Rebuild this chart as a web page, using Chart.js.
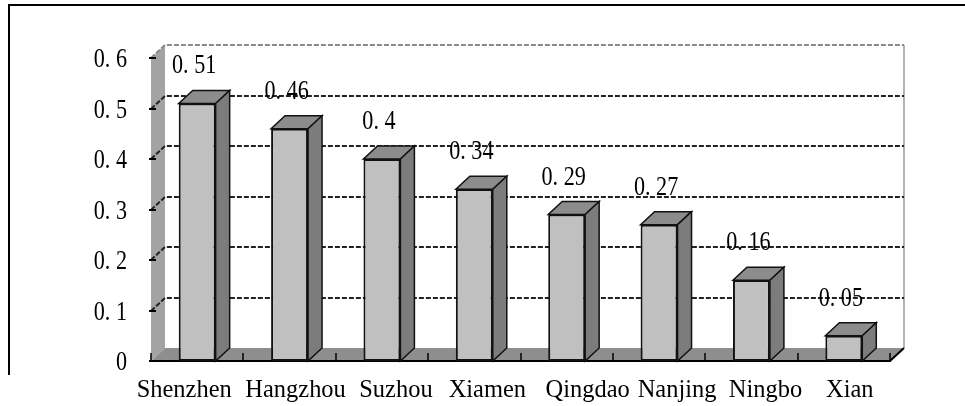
<!DOCTYPE html>
<html>
<head>
<meta charset="utf-8">
<script src="https://cdn.jsdelivr.net/npm/chart.js@4/dist/chart.umd.min.js"></script>
<style>
  html, body { margin: 0; padding: 0; background: #fff; }
  #wrap { width: 965px; height: 406px; position: relative; }
</style>
</head>
<body>
<div id="wrap"><canvas id="c"></canvas></div>
<script>
const cities = ['Shenzhen', 'Hangzhou', 'Suzhou', 'Xiamen', 'Qingdao', 'Nanjing', 'Ningbo', 'Xian'];
const scores = [0.51, 0.46, 0.4, 0.34, 0.29, 0.27, 0.16, 0.05];
const yMin = 0, yMax = 0.6, yStep = 0.1;

// the city names sit as one line of text, so each drifts a bit off its bar
const labelNudge = [-13, 6, 14, 13, 21, 18, 14, 6];

// depth of the fake 3d box
const DX = 14, DY = 13;
const serif = '"Liberation Serif", "Times New Roman", serif';

function fmt(v) {
  if (v === 0) return '0';
  return String(Math.round(v * 100) / 100).replace('0.', '0. ');
}

function poly(ctx, pts) {
  ctx.beginPath();
  ctx.moveTo(pts[0][0], pts[0][1]);
  for (let i = 1; i < pts.length; i++) ctx.lineTo(pts[i][0], pts[i][1]);
  ctx.closePath();
}

// narrow, tall text like the old SimSun digits
function narrowText(ctx, str, x, y, size, sx, align, baseline) {
  ctx.save();
  ctx.font = size + 'px ' + serif;
  ctx.textAlign = align;
  ctx.textBaseline = baseline;
  ctx.translate(x, y);
  ctx.scale(sx, 1);
  ctx.fillText(str, 0, 0);
  ctx.restore();
}

const box3d = {
  id: 'box3d',
  beforeDatasetsDraw(chart) {
    const { ctx, chartArea: a, scales: { x, y } } = chart;
    ctx.save();

    // left wall
    ctx.fillStyle = '#a3a3a3';
    poly(ctx, [[a.left, a.bottom], [a.left, a.top], [a.left + DX, a.top - DY], [a.left + DX, a.bottom - DY]]);
    ctx.fill();

    // floor
    ctx.fillStyle = '#8e8e8e';
    poly(ctx, [[a.left, a.bottom], [a.right, a.bottom], [a.right + DX, a.bottom - DY], [a.left + DX, a.bottom - DY]]);
    ctx.fill();

    // right edge of the back wall
    ctx.strokeStyle = '#b4b4b4';
    ctx.lineWidth = 2;
    ctx.beginPath();
    ctx.moveTo(a.right + DX, a.top - DY);
    ctx.lineTo(a.right + DX, a.bottom - DY);
    ctx.stroke();

    // dashed gridlines on wall + back
    ctx.lineWidth = 2;
    ctx.setLineDash([5, 2]);
    y.ticks.forEach(t => {
      if (t.value === 0) return;
      const py = Math.round(y.getPixelForValue(t.value));
      ctx.strokeStyle = t.value >= 0.6 ? '#8a8a8a' : (t.value >= 0.5 ? '#666' : '#222');
      ctx.beginPath();
      ctx.moveTo(a.left, py);
      ctx.lineTo(a.left + DX, py - DY);
      ctx.lineTo(a.right + DX, py - DY);
      ctx.stroke();
    });
    ctx.setLineDash([]);

    // y tick marks
    ctx.strokeStyle = '#000';
    ctx.lineWidth = 2;
    y.ticks.forEach(t => {
      const py = Math.round(y.getPixelForValue(t.value));
      ctx.beginPath();
      ctx.moveTo(a.left - 2, py);
      ctx.lineTo(a.left + 5, py);
      ctx.stroke();
    });

    // x axis front edge and category ticks
    ctx.beginPath();
    ctx.moveTo(a.left, a.bottom);
    ctx.lineTo(a.right, a.bottom);
    ctx.lineTo(a.right + DX, a.bottom - DY);
    ctx.stroke();
    ctx.lineWidth = 1.5;
    for (let i = 0; i <= cities.length; i++) {
      const px = Math.round(a.left + (a.right - a.left) * i / cities.length);
      ctx.beginPath();
      ctx.moveTo(px, a.bottom - 8);
      ctx.lineTo(px, a.bottom + 1);
      ctx.stroke();
    }
    ctx.restore();
  },
  afterDatasetsDraw(chart) {
    const { ctx } = chart;
    const meta = chart.getDatasetMeta(0);
    ctx.save();
    ctx.lineWidth = 1.5;
    ctx.strokeStyle = '#111';
    meta.data.forEach((bar, i) => {
      const p = bar.getProps(['x', 'y', 'base', 'width'], true);
      const l = p.x - p.width / 2, r = p.x + p.width / 2;
      // top face
      ctx.fillStyle = '#8c8c8c';
      poly(ctx, [[l, p.y], [r, p.y], [r + DX, p.y - DY], [l + DX, p.y - DY]]);
      ctx.fill(); ctx.stroke();
      // side face
      ctx.fillStyle = '#7c7c7c';
      poly(ctx, [[r, p.y], [r + DX, p.y - DY], [r + DX, p.base - DY], [r, p.base]]);
      ctx.fill(); ctx.stroke();
      // value label
      ctx.fillStyle = '#000';
      narrowText(ctx, fmt(scores[i]), p.x - 3, p.y - 30, 27, 0.82, 'center', 'alphabetic');
    });
    ctx.restore();
  },
  afterDraw(chart) {
    const { ctx, chartArea: a, scales: { x, y } } = chart;
    ctx.save();
    ctx.fillStyle = '#000';

    // y axis labels
    y.ticks.forEach(t => {
      const py = y.getPixelForValue(t.value);
      narrowText(ctx, fmt(t.value), 127, py + 2, 27, 0.82, 'right', 'middle');
    });

    // city names
    cities.forEach((c, i) => {
      narrowText(ctx, c, x.getPixelForValue(i) + labelNudge[i], a.bottom + 36, 26, 0.94, 'center', 'alphabetic');
    });

    // outer frame
    ctx.fillRect(8, 4, 957, 2);
    ctx.fillRect(8, 4, 2, 371);
    ctx.restore();
  }
};

new Chart(document.getElementById('c'), {
  type: 'bar',
  data: {
    labels: cities,
    datasets: [{
      data: scores,
      backgroundColor: '#c0c0c0',
      borderColor: '#111',
      borderWidth: 2,
      borderSkipped: false,
      barPercentage: 0.4,
      categoryPercentage: 1
    }]
  },
  options: {
    responsive: true,
    maintainAspectRatio: false,
    animation: false,
    layout: { padding: { top: 58, right: 75, left: 0, bottom: 0 } },
    plugins: {
      legend: { display: false },
      tooltip: { enabled: false }
    },
    scales: {
      x: {
        grid: { display: false, drawTicks: false },
        border: { display: false },
        ticks: { display: false },
        afterFit(s) { s.height = 45; }
      },
      y: {
        min: yMin,
        max: yMax,
        grid: { display: false, drawTicks: false },
        border: { display: false },
        ticks: { display: false, stepSize: yStep },
        afterFit(s) { s.width = 151; }
      }
    }
  },
  plugins: [box3d]
});
</script>
</body>
</html>
